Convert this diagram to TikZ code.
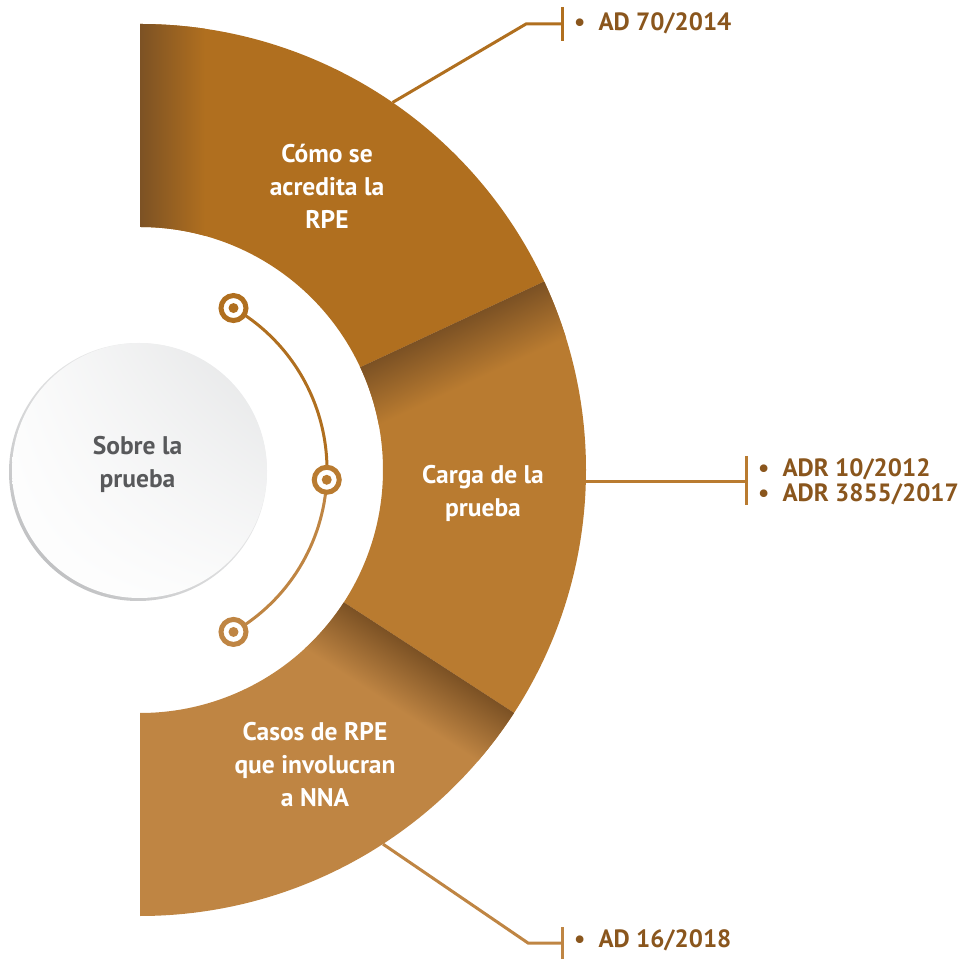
\documentclass[tikz,border=0pt]{standalone}
\usepackage{fontspec}
\setmainfont{PT Sans}
\usepackage{tikz}
\usetikzlibrary{calc, shadings}
\definecolor{segA}{HTML}{B06F1F}
\definecolor{segB}{HTML}{B97B30}
\definecolor{segC}{HTML}{BF8543}
\definecolor{shadow}{HTML}{7B5124}
\definecolor{refbrown}{HTML}{8A561D}
\definecolor{hubgray}{HTML}{58595B}
\definecolor{rimgray}{HTML}{B3B4B6}
\definecolor{facegray}{HTML}{E4E5E6}

\begin{document}
\begin{tikzpicture}[x=1pt, y=1pt]
    \tikzstyle{seglabel} = [text=white, font=\bfseries\fontsize{25.5}{33}\selectfont, align=center]
    \tikzstyle{ref} = [text=refbrown, font=\bfseries\fontsize{25}{25}\selectfont, align=left, anchor=west, inner sep=0pt]
    \tikzstyle{lead} = [line width=3pt]
    \tikzstyle{ring} = [circle, line width=5pt, fill=white, minimum size=25pt, inner sep=0pt]
    \useasboundingbox (0,0) rectangle (968,958);
    \coordinate (C) at (140,488);

    % half ring in three parts
    \fill[segA] ($(C)+(90:446)$) arc[start angle=90, end angle=25, radius=446] -- ($(C)+(25:243)$) arc[start angle=25, end angle=90, radius=243] -- cycle;
    \fill[segB] ($(C)+(25:446)$) arc[start angle=25, end angle=-33, radius=446] -- ($(C)+(-33:243)$) arc[start angle=-33, end angle=25, radius=243] -- cycle;
    \fill[segC] ($(C)+(-33:446)$) arc[start angle=-33, end angle=-90, radius=446] -- ($(C)+(-90:243)$) arc[start angle=-90, end angle=-33, radius=243] -- cycle;

    % shadows
    \begin{scope}
        \clip ($(C)+(90:446)$) arc[start angle=90, end angle=25, radius=446] -- ($(C)+(25:243)$) arc[start angle=25, end angle=90, radius=243] -- cycle;
        \shade[left color=shadow, right color=segA] (138,0) rectangle (205,958);
    \end{scope}
    \begin{scope}
        \clip ($(C)+(25:446)$) arc[start angle=25, end angle=-33, radius=446] -- ($(C)+(-33:243)$) arc[start angle=-33, end angle=25, radius=243] -- cycle;
        \begin{scope}[transform canvas={rotate around={25:(C)}}]
            \shade[top color=shadow, bottom color=segB] ($(C)+(0,-60)$) rectangle ($(C)+(470,0.5)$);
        \end{scope}
    \end{scope}
    \begin{scope}
        \clip ($(C)+(-33:446)$) arc[start angle=-33, end angle=-90, radius=446] -- ($(C)+(-90:243)$) arc[start angle=-90, end angle=-33, radius=243] -- cycle;
        \begin{scope}[transform canvas={rotate around={-33:(C)}}]
            \shade[top color=shadow, bottom color=segC] ($(C)+(0,-60)$) rectangle ($(C)+(470,0.5)$);
        \end{scope}
    \end{scope}

    \node[seglabel] (s1) at (327,772) {Cómo se\\acredita la\\RPE};
    \node[seglabel] (s2) at (483,465) {Carga de la\\prueba};
    \node[seglabel] (s3) at (315,194) {Casos de RPE\\que involucran\\a NNA};

    % centre circle
    \shade[lower left=rimgray, upper right=white, lower right=white!60!rimgray, upper left=white!60!rimgray] (138,486) circle (129);
    \node[circle, minimum size=255pt, inner sep=0pt, lower left=white, upper right=facegray, lower right=white!85!facegray, upper left=white!85!facegray] (hub) at (139.5,487.5) {};
    \node[text=hubgray, font=\bfseries\fontsize{25.5}{33}\selectfont, align=center] (hubtext) at ($(hub)+(-2,6)$) {Sobre la\\prueba};

    % arc with rings
    \coordinate (d1) at ($(C)+(60:187)$);
    \coordinate (d2) at ($(C)+(-3:187)$);
    \coordinate (d3) at ($(C)+(-60:187)$);
    \draw[lead, segA] (d1) arc[start angle=60, end angle=-3, radius=187];
    \draw[lead, segC] (d2) arc[start angle=-3, end angle=-60, radius=187];
    \node[ring, draw=segA] (r1) at (d1) {};
    \node[ring, draw=segB] (r2) at (d2) {};
    \node[ring, draw=segC] (r3) at (d3) {};
    \fill[segA] (r1) circle (5);
    \fill[segB] (r2) circle (5);
    \fill[segC] (r3) circle (5);

    % leaders
    \coordinate (a1) at ($(C)+(55.5:446)$);
    \coordinate (k1) at (526,934);
    \coordinate (t1) at (562,934);
    \draw[lead, segA] (a1) -- (k1) -- (t1);
    \draw[lead, segA] ($(t1)+(0,17)$) -- ($(t1)+(0,-17)$);
    \node[ref] (l1) at ($(t1)+(12,1)$) {\textbullet\hspace{13pt}AD 70/2014};

    \coordinate (a2) at (583,476);
    \coordinate (t2) at (746,476);
    \draw[lead, segB] (a2) -- (t2);
    \draw[lead, segB] ($(t2)+(0,26)$) -- ($(t2)+(0,-23)$);
    \node[ref] (l2) at ($(t2)+(12,0)$) {\textbullet\hspace{13pt}ADR 10/2012\\\textbullet\hspace{13pt}ADR 3855/2017};

    \coordinate (a3) at ($(C)+(-57:446)$);
    \coordinate (k3) at (528,15);
    \coordinate (t3) at (562,15);
    \draw[lead, segC] (a3) -- (k3) -- (t3);
    \draw[lead, segC] ($(t3)+(0,16)$) -- ($(t3)+(0,-20)$);
    \node[ref] (l3) at ($(t3)+(12,3)$) {\textbullet\hspace{13pt}AD 16/2018};
\end{tikzpicture}
\end{document}
